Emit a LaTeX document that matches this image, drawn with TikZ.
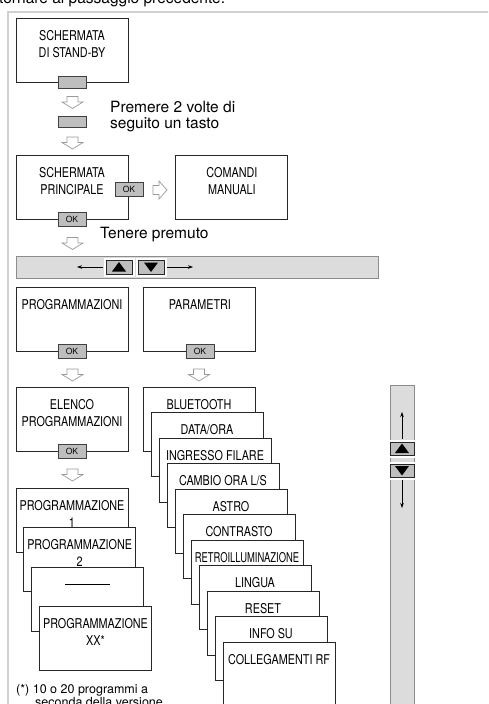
\documentclass[tikz,border=0pt]{standalone}
\usepackage{fontspec}
\setmainfont{TeX Gyre Heros}
\newfontfamily\narrowfont[FakeStretch=0.8]{TeX Gyre Heros}
\usetikzlibrary{arrows.meta,positioning,calc}
\definecolor{keygray}{HTML}{BEBEBE}
\definecolor{bargray}{HTML}{DCDCDC}
\definecolor{rimgray}{HTML}{8C8C8C}
\definecolor{hollowgray}{HTML}{9A9A9A}
\definecolor{framegray}{HTML}{D0D0D0}
\newcommand{\uptri}[1]{\fill ($(#1)+(-7,4.5)$) -- ++(14,0) -- ($(#1)+(0,-5)$) -- cycle;}
\newcommand{\downtri}[1]{\fill ($(#1)+(-7,-4.5)$) -- ++(14,0) -- ($(#1)+(0,5)$) -- cycle;}
\newcommand{\hollowdown}[1]{\draw[hollow] ($(#1)+(-5.5,-6)$) -- ($(#1)+(5.5,-6)$) -- ($(#1)+(5.5,-0.5)$)
  -- ($(#1)+(10.5,-0.5)$) -- ($(#1)+(0,6)$) -- ($(#1)+(-10.5,-0.5)$) -- ($(#1)+(-5.5,-0.5)$) -- cycle;}
\newcommand{\hollowright}[1]{\draw[hollow] ($(#1)+(-7,-4.5)$) -- ($(#1)+(-1,-4.5)$) -- ($(#1)+(-1,-9)$)
  -- ($(#1)+(7,0)$) -- ($(#1)+(-1,9)$) -- ($(#1)+(-1,4.5)$) -- ($(#1)+(-7,4.5)$) -- cycle;}

\begin{document}
\begin{tikzpicture}[x=1pt, y=-1pt,
  font=\fontsize{15.5}{16}\selectfont,
  screen/.style={draw=black!85, line width=0.9pt, fill=white, inner sep=0pt,
    minimum width=112pt, minimum height=64pt, align=center,
    text height=22pt, text depth=42pt, font=\narrowfont\fontsize{13.5}{17}\selectfont},
  twoline/.style={screen, text height=39pt, text depth=25pt},
  key/.style={draw=black!75, fill=keygray, line width=0.6pt, inner sep=0pt,
    minimum width=28pt, minimum height=11.5pt},
  okkey/.style={key, minimum height=14pt, font=\fontsize{8.5}{9}\selectfont},
  tkey/.style={draw=black!85, fill=keygray, line width=0.7pt, inner sep=0pt,
    minimum width=26pt, minimum height=14pt, preaction={draw=white, line width=5pt}},
  hollow/.style={draw=hollowgray, fill=white, line width=0.7pt, line join=miter},
  bar/.style={draw=rimgray, fill=bargray, line width=0.8pt, inner sep=0pt},
  txt/.style={anchor=base west, align=left, inner sep=0pt},
  arr/.style={-{Stealth[length=5pt, width=3.5pt]}, line width=0.6pt}
]
\useasboundingbox (0,0) rectangle (488,704);
\clip (0,0) rectangle (488,704);
% page frame
\node[txt] (head) at (-1,3.5) {tornare al passaggio precedente.};
\draw[framegray, line width=1.5pt] (500,12) -| (8,720);

% stand-by
\node[twoline] (stby) at (72,50) {SCHERMATA\\DI STAND-BY};
\node[key] (k1) at (stby.south) {};
\coordinate (a1) at (72.5,102.5); \hollowdown{a1}
\node[key] (k2) at (72,122) {};
\coordinate (a2) at (72.5,143); \hollowdown{a2}
\node[txt] (twice) at (110,128) {Premere 2 volte di\\seguito un tasto};

% main screen
\node[twoline] (main) at (72,187) {SCHERMATA\\PRINCIPALE};
\node[okkey] (okR) at (129,189) {OK};
\node[okkey] (okD) at (main.south) {OK};
\coordinate (a3) at (160,190); \hollowright{a3}
\node[twoline, right=47pt of main] (manual) {COMANDI\\MANUALI};
\node[txt] (hold) at (100,238) {Tenere premuto};
\coordinate (a4) at (72.5,243.5); \hollowdown{a4}

% horizontal scroll bar
\node[bar, minimum width=362pt, minimum height=22pt] (hbar) at (197,267) {};
\node[tkey] (up) at (119,267) {};
\node[tkey] (dn) at (151,267) {};
\uptri{up} \downtri{dn}
\coordinate (hl) at (77,267);
\coordinate (hr) at (193,267);
\draw[arr] ([xshift=-2.5pt]up.west) -- (hl);
\draw[arr] ([xshift=2.5pt]dn.east) -- (hr);

% programmes
\node[screen] (prog) at (72,319) {PROGRAMMAZIONI};
\node[okkey] (okP) at (prog.south) {OK};
\node[screen, right=15pt of prog] (param) {PARAMETRI};
\node[okkey] (okQ) at (param.south) {OK};
\coordinate (a5) at (72.5,375); \hollowdown{a5}
\coordinate (a6) at (199,375); \hollowdown{a6}
\node[twoline] (list) at (72,419) {ELENCO\\PROGRAMMAZIONI};
\node[okkey] (okL) at (list.south) {OK};
\coordinate (a7) at (72.5,475); \hollowdown{a7}
\node[twoline] (pr1) at (72,520) {PROGRAMMAZIONE\\1};
\node[twoline] (pr2) at (79.7,559.5) {PROGRAMMAZIONE\\2};
\node[screen] (pr3) at (87.7,599) {\rule[4pt]{45pt}{0.8pt}};
\node[twoline] (prx) at (95.5,638) {PROGRAMMAZIONE\\XX*};
\node[txt, font=\fontsize{12.5}{13}\selectfont] (note) at (16,706)
  {(*) 10 o 20 programmi a\\\hspace*{19pt}seconda della versione};

% parameter menu
\node[screen] (m1) at (199,419) {BLUETOOTH};
\node[screen] (m2) at (207,444.5) {DATA/ORA};
\node[screen] (m3) at (215,470) {INGRESSO FILARE};
\node[screen] (m4) at (223,495.5) {CAMBIO ORA L/S};
\node[screen] (m5) at (231,521) {ASTRO};
\node[screen] (m6) at (239,546.5) {CONTRASTO};
\node[screen] (m7) at (247,572) {\scalebox{0.87}[1]{RETROILLUMINAZIONE}};
\node[screen] (m8) at (255,597.5) {LINGUA};
\node[screen] (m9) at (263,623) {RESET};
\node[screen] (m10) at (271,648.5) {INFO SU};
\node[screen] (m11) at (279,674) {COLLEGAMENTI RF};

% vertical scroll bar
\node[bar, minimum width=24pt, minimum height=330pt, anchor=north] (vbar) at (402,385) {};
\node[tkey, minimum width=24pt, minimum height=13pt] (vup) at (402,448.5) {};
\node[tkey, minimum width=24pt, minimum height=13pt] (vdn) at (402,470.5) {};
\uptri{vup} \downtri{vdn}
\coordinate (vt) at (402,412);
\coordinate (vb) at (402,508);
\draw[arr] ([yshift=2.5pt]vup.north) -- (vt);
\draw[arr] ([yshift=-2.5pt]vdn.south) -- (vb);
\end{tikzpicture}
\end{document}
